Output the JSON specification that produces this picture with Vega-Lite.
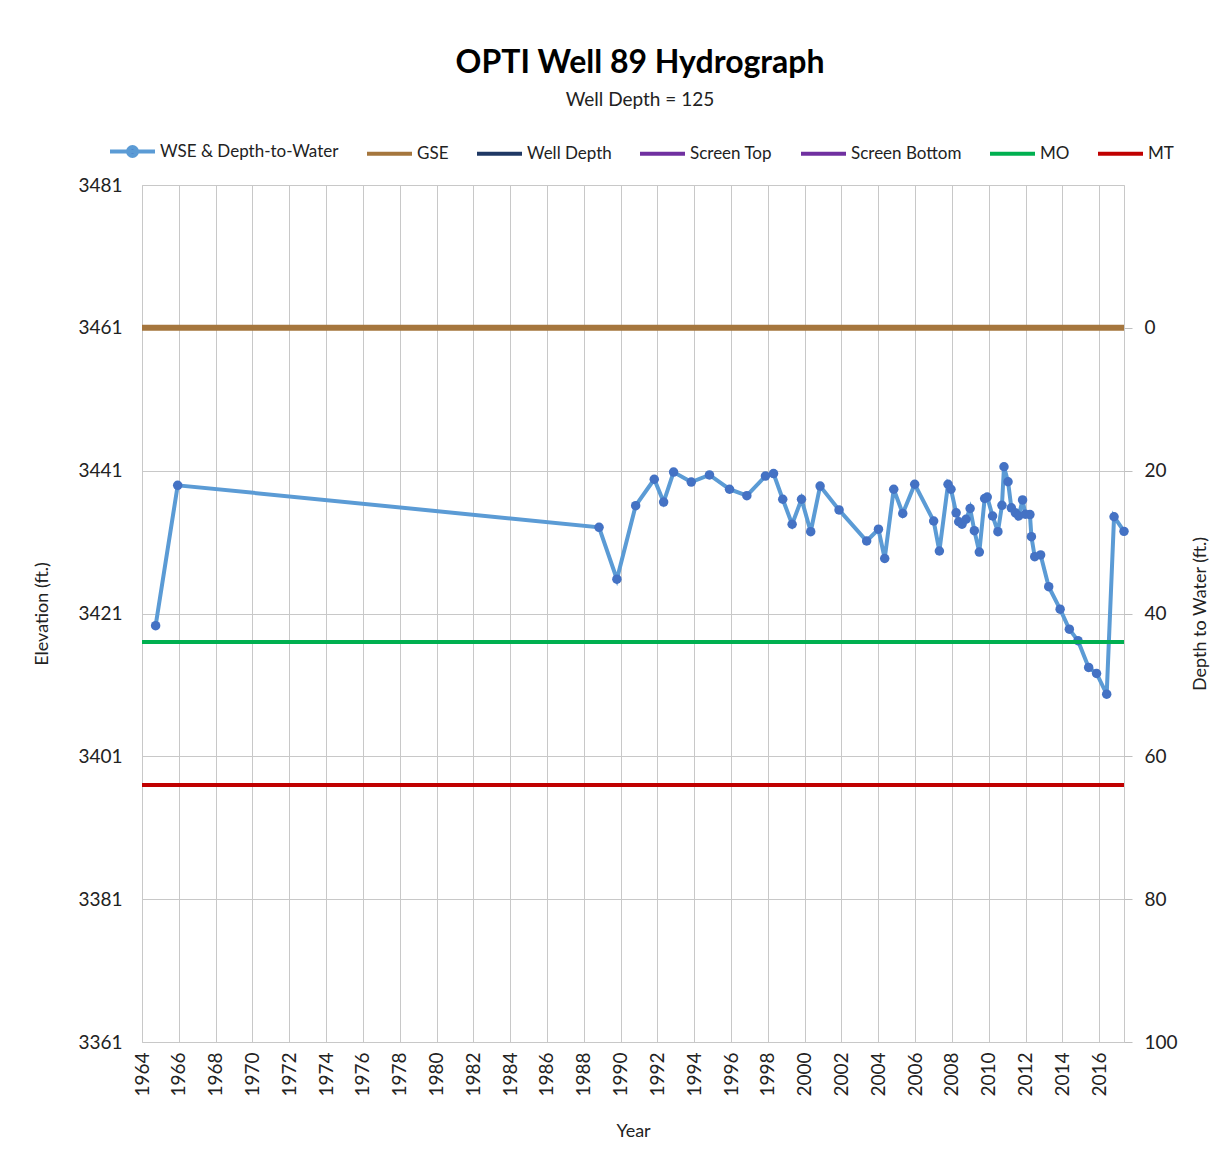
{
  "$schema": "https://vega.github.io/schema/vega-lite/v6.json",
  "width": 982,
  "height": 857,
  "autosize": {"type": "none"},
  "padding": {"left": 142, "top": 185, "right": 94, "bottom": 114},
  "background": "white",
  "title": {
    "text": "OPTI Well 89 Hydrograph",
    "subtitle": "Well Depth = 125",
    "font": "Lato",
    "fontSize": 32,
    "fontWeight": "bold",
    "color": "#000000",
    "subtitleFont": "Lato",
    "subtitleFontSize": 19,
    "subtitleColor": "#222222",
    "subtitlePadding": 11,
    "anchor": "middle",
    "frame": "group",
    "offset": 16,
    "dx": 7
  },
  "datasets": {
    "wells": [
      {"series": "WSE & Depth-to-Water", "year": 1964.74, "elev": 3419.3},
      {"series": "WSE & Depth-to-Water", "year": 1965.94, "elev": 3438.95},
      {"series": "WSE & Depth-to-Water", "year": 1988.83, "elev": 3433.07},
      {"series": "WSE & Depth-to-Water", "year": 1989.8, "elev": 3425.8},
      {"series": "WSE & Depth-to-Water", "year": 1990.82, "elev": 3436.1},
      {"series": "WSE & Depth-to-Water", "year": 1991.83, "elev": 3439.8},
      {"series": "WSE & Depth-to-Water", "year": 1992.34, "elev": 3436.6},
      {"series": "WSE & Depth-to-Water", "year": 1992.88, "elev": 3440.8},
      {"series": "WSE & Depth-to-Water", "year": 1993.84, "elev": 3439.4},
      {"series": "WSE & Depth-to-Water", "year": 1994.83, "elev": 3440.4},
      {"series": "WSE & Depth-to-Water", "year": 1995.92, "elev": 3438.4},
      {"series": "WSE & Depth-to-Water", "year": 1996.86, "elev": 3437.5},
      {"series": "WSE & Depth-to-Water", "year": 1997.87, "elev": 3440.25},
      {"series": "WSE & Depth-to-Water", "year": 1998.31, "elev": 3440.6},
      {"series": "WSE & Depth-to-Water", "year": 1998.81, "elev": 3437.0},
      {"series": "WSE & Depth-to-Water", "year": 1999.32, "elev": 3433.5},
      {"series": "WSE & Depth-to-Water", "year": 1999.83, "elev": 3437.0},
      {"series": "WSE & Depth-to-Water", "year": 2000.33, "elev": 3432.45},
      {"series": "WSE & Depth-to-Water", "year": 2000.84, "elev": 3438.85},
      {"series": "WSE & Depth-to-Water", "year": 2001.87, "elev": 3435.5},
      {"series": "WSE & Depth-to-Water", "year": 2003.37, "elev": 3431.15},
      {"series": "WSE & Depth-to-Water", "year": 2004.01, "elev": 3432.8},
      {"series": "WSE & Depth-to-Water", "year": 2004.35, "elev": 3428.7},
      {"series": "WSE & Depth-to-Water", "year": 2004.84, "elev": 3438.4},
      {"series": "WSE & Depth-to-Water", "year": 2005.33, "elev": 3435.0},
      {"series": "WSE & Depth-to-Water", "year": 2005.98, "elev": 3439.1},
      {"series": "WSE & Depth-to-Water", "year": 2007.01, "elev": 3433.95},
      {"series": "WSE & Depth-to-Water", "year": 2007.32, "elev": 3429.75},
      {"series": "WSE & Depth-to-Water", "year": 2007.79, "elev": 3439.1},
      {"series": "WSE & Depth-to-Water", "year": 2007.95, "elev": 3438.4},
      {"series": "WSE & Depth-to-Water", "year": 2008.23, "elev": 3435.1},
      {"series": "WSE & Depth-to-Water", "year": 2008.37, "elev": 3433.85},
      {"series": "WSE & Depth-to-Water", "year": 2008.55, "elev": 3433.5},
      {"series": "WSE & Depth-to-Water", "year": 2008.77, "elev": 3434.2},
      {"series": "WSE & Depth-to-Water", "year": 2008.99, "elev": 3435.7},
      {"series": "WSE & Depth-to-Water", "year": 2009.22, "elev": 3432.6},
      {"series": "WSE & Depth-to-Water", "year": 2009.49, "elev": 3429.6},
      {"series": "WSE & Depth-to-Water", "year": 2009.78, "elev": 3437.1},
      {"series": "WSE & Depth-to-Water", "year": 2009.92, "elev": 3437.3},
      {"series": "WSE & Depth-to-Water", "year": 2010.21, "elev": 3434.65},
      {"series": "WSE & Depth-to-Water", "year": 2010.5, "elev": 3432.45},
      {"series": "WSE & Depth-to-Water", "year": 2010.72, "elev": 3436.15},
      {"series": "WSE & Depth-to-Water", "year": 2010.83, "elev": 3441.55},
      {"series": "WSE & Depth-to-Water", "year": 2011.05, "elev": 3439.45},
      {"series": "WSE & Depth-to-Water", "year": 2011.23, "elev": 3435.8},
      {"series": "WSE & Depth-to-Water", "year": 2011.45, "elev": 3435.1},
      {"series": "WSE & Depth-to-Water", "year": 2011.63, "elev": 3434.65},
      {"series": "WSE & Depth-to-Water", "year": 2011.84, "elev": 3436.9},
      {"series": "WSE & Depth-to-Water", "year": 2011.99, "elev": 3434.9},
      {"series": "WSE & Depth-to-Water", "year": 2012.24, "elev": 3434.85},
      {"series": "WSE & Depth-to-Water", "year": 2012.32, "elev": 3431.75},
      {"series": "WSE & Depth-to-Water", "year": 2012.5, "elev": 3428.95},
      {"series": "WSE & Depth-to-Water", "year": 2012.82, "elev": 3429.2},
      {"series": "WSE & Depth-to-Water", "year": 2013.26, "elev": 3424.75},
      {"series": "WSE & Depth-to-Water", "year": 2013.88, "elev": 3421.6},
      {"series": "WSE & Depth-to-Water", "year": 2014.38, "elev": 3418.8},
      {"series": "WSE & Depth-to-Water", "year": 2014.85, "elev": 3417.2},
      {"series": "WSE & Depth-to-Water", "year": 2015.43, "elev": 3413.45},
      {"series": "WSE & Depth-to-Water", "year": 2015.86, "elev": 3412.6},
      {"series": "WSE & Depth-to-Water", "year": 2016.41, "elev": 3409.7},
      {"series": "WSE & Depth-to-Water", "year": 2016.81, "elev": 3434.55},
      {"series": "WSE & Depth-to-Water", "year": 2017.35, "elev": 3432.5}
    ],
    "refs": [
      {"series": "GSE", "elev": 3461, "depth": 0},
      {"series": "MO", "elev": 3417, "depth": 44},
      {"series": "MT", "elev": 3397, "depth": 64}
    ]
  },
  "layer": [
    {
      "layer": [
        {
          "data": {"name": "wells"},
          "mark": {"type": "line", "strokeWidth": 4, "clip": true},
          "encoding": {
            "x": {
              "field": "year",
              "type": "quantitative",
              "scale": {"domain": [1964, 2017.35], "nice": false, "zero": false},
              "axis": {
                "title": "Year",
                "values": [1964, 1966, 1968, 1970, 1972, 1974, 1976, 1978, 1980, 1982, 1984, 1986, 1988, 1990, 1992, 1994, 1996, 1998, 2000, 2002, 2004, 2006, 2008, 2010, 2012, 2014, 2016],
                "tickCount": 40,
                "format": "d",
                "labelAngle": -90,
                "labelPadding": 10,
                "labelOverlap": false,
                "labelBound": false,
                "labelFlush": false,
                "ticks": false,
                "domain": false,
                "grid": true,
                "gridColor": "#c8c8c8",
                "titlePadding": 26
              }
            },
            "y": {
              "field": "elev",
              "type": "quantitative",
              "scale": {"domain": [3361, 3481], "nice": false, "zero": false},
              "axis": {
                "title": "Elevation (ft.)",
                "values": [3361, 3381, 3401, 3421, 3441, 3461, 3481],
                "tickCount": 10,
                "format": "d",
                "grid": true,
                "gridColor": "#c8c8c8",
                "ticks": false,
                "domain": false,
                "labelOverlap": false,
                "labelPadding": 20,
                "titlePadding": 26
              }
            },
            "color": {
              "field": "series",
              "type": "nominal",
              "scale": {
                "domain": ["WSE & Depth-to-Water", "GSE", "Well Depth", "Screen Top", "Screen Bottom", "MO", "MT"],
                "range": ["#5B9BD5", "#A5763D", "#1F3864", "#7030A0", "#7030A0", "#00B050", "#C00000"]
              },
              "legend": {
                "title": null,
                "orient": "none",
                "direction": "horizontal",
                "columns": 7,
                "legendX": -34,
                "legendY": -58,
                "symbolType": "stroke",
                "symbolSize": 2025,
                "symbolStrokeWidth": 4,
                "labelFontSize": 17,
                "labelOffset": 3,
                "labelLimit": 400,
                "columnPadding": 20,
                "labelColor": "#222222",
                "encode": {
                  "symbols": {
                    "update": {
                      "shape": {"signal": "datum.value === 'WSE & Depth-to-Water' ? 'M-1,0H1M-0.2,0A0.2,0.2 0 1,0 0.2,0A0.2,0.2 0 1,0 -0.2,0' : 'stroke'"},
                      "fill": {"signal": "datum.value === 'WSE & Depth-to-Water' ? '#4472C4' : 'transparent'"}
                    }
                  }
                }
              }
            }
          }
        },
        {
          "data": {"name": "wells"},
          "mark": {"type": "point", "filled": true, "size": 90, "color": "#4472C4", "opacity": 1},
          "encoding": {
            "x": {"field": "year", "type": "quantitative"},
            "y": {"field": "elev", "type": "quantitative"}
          }
        },
        {
          "data": {"name": "refs"},
          "transform": [{"filter": "datum.series === 'GSE'"}],
          "mark": {"type": "rule", "strokeWidth": 6},
          "encoding": {
            "y": {"field": "elev", "type": "quantitative"},
            "color": {"field": "series", "type": "nominal"}
          }
        },
        {
          "data": {"name": "refs"},
          "transform": [{"filter": "datum.series !== 'GSE'"}],
          "mark": {"type": "rule", "strokeWidth": 4},
          "encoding": {
            "y": {"field": "elev", "type": "quantitative"},
            "color": {"field": "series", "type": "nominal"}
          }
        }
      ]
    },
    {
      "data": {"name": "refs"},
      "mark": {"type": "rule", "opacity": 0},
      "encoding": {
        "y": {
          "field": "depth",
          "type": "quantitative",
          "scale": {"domain": [-20, 100], "reverse": true, "nice": false, "zero": false},
          "axis": {
            "orient": "right",
            "title": "Depth to Water (ft.)",
            "values": [0, 20, 40, 60, 80, 100],
            "tickCount": 10,
            "grid": false,
            "domain": false,
            "ticks": true,
            "tickSize": 8,
            "tickColor": "#bfbfbf",
            "labelOverlap": false,
            "labelPadding": 12,
            "titleAngle": -90,
            "titlePadding": 32
          }
        }
      }
    }
  ],
  "resolve": {"scale": {"y": "independent"}},
  "config": {
    "font": "Lato",
    "view": {"stroke": "#c8c8c8"},
    "axis": {
      "labelFont": "Lato",
      "titleFont": "Lato",
      "labelFontSize": 19,
      "titleFontSize": 18,
      "titleFontWeight": "normal",
      "labelColor": "#222222",
      "titleColor": "#222222"
    },
    "legend": {"labelFont": "Lato"}
  }
}
